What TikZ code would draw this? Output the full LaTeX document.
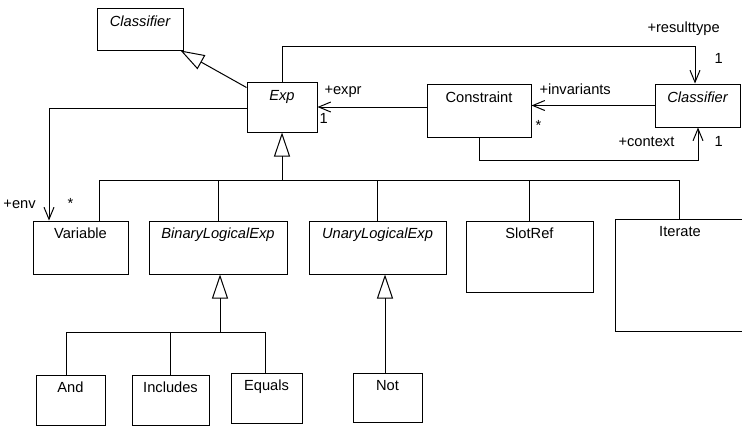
\documentclass[tikz,border=0pt]{standalone}
\usepackage{fontspec}
\setmainfont{Liberation Sans}
\usetikzlibrary{arrows.meta}
\begin{document}
\begin{tikzpicture}[x=0.75pt,y=-0.75pt,
  every path/.style={line width=0.75pt},
  box/.style 2 args={draw, rectangle, inner sep=0pt, line width=0.75pt,
    minimum width=#1*0.75pt, minimum height=#2*0.75pt},
  lbl/.style={inner sep=0pt, anchor=base, font=\fontsize{11}{13}\selectfont},
  ilbl/.style={lbl, font=\fontsize{11}{13}\selectfont\itshape},
  elbl/.style={inner sep=0pt, anchor=base west, font=\fontsize{11}{13}\selectfont},
  gen/.style={-{Triangle[open, length=18pt, width=12pt, line width=0.75pt]}},
  assoc/.style={-{Straight Barb[length=9pt, width=7.5pt, line width=0.75pt]}}]
\useasboundingbox (0,0) rectangle (742,426);

% boxes
\node[box={86}{42}]  (cls1) at (140,29) {};
\node[box={70}{50}]  (exp)  at (282,107) {};
\node[box={104}{53}] (con)  at (479,110.5) {};
\node[box={85}{43}]  (cls2) at (697.5,105.5) {};
\node[box={95}{53}]  (var)  at (80.5,247.5) {};
\node[box={138}{53}] (bin)  at (218,247.5) {};
\node[box={137}{53}] (una)  at (377.5,247.5) {};
\node[box={127}{71}] (slot) at (529.5,256.5) {};
\node[box={128}{112}] (iter) at (679,275) {};
\node[box={69}{50}]  (and)  at (70.5,400) {};
\node[box={77}{50}]  (inc)  at (170.5,400) {};
\node[box={71}{50}]  (eq)   at (266.5,398) {};
\node[box={69}{49}]  (not)  at (387.5,397.5) {};

% box texts
\node[ilbl] (tcls1) at (140,26) {Classifier};
\node[ilbl] (texp)  at (282,100) {Exp};
\node[lbl]  (tcon)  at (479,102) {Constraint};
\node[ilbl] (tcls2) at (697.5,102) {Classifier};
\node[lbl]  (tvar)  at (80.5,238.5) {Variable};
\node[ilbl] (tbin)  at (218,238.5) {BinaryLogicalExp};
\node[ilbl] (tuna)  at (377.5,238.5) {UnaryLogicalExp};
\node[lbl]  (tslot) at (529.5,238.5) {SlotRef};
\node[lbl]  (titer) at (680,236.5) {Iterate};
\node[lbl]  (tand)  at (70.5,392) {And};
\node[lbl]  (tinc)  at (170.5,392) {Includes};
\node[lbl]  (teq)   at (266.5,390.5) {Equals};
\node[lbl]  (tnot)  at (387.5,390) {Not};

% Exp generalizes Classifier
\draw[gen] ([yshift=-4.5pt]exp.north west) -- ([xshift=-2.25pt]cls1.south east);

% Exp subclasses
\coordinate (bus) at (282,180);
\coordinate (busL) at (99,180);
\coordinate (busR) at (679,180);
\draw[gen] (bus) -- (exp.south);
\draw (busL) -- (busR);
\draw (busL) -- (busL |- var.north);
\draw (bin.north |- bus) -- (bin.north);
\draw (una.north |- bus) -- (una.north);
\draw (slot.north |- bus) -- (slot.north);
\draw (busR) -- (iter.north);

% BinaryLogicalExp subclasses
\coordinate (bbus) at (220,332);
\coordinate (bbusL) at (66,332);
\coordinate (bbusR) at (265,332);
\draw[gen] (bbus) -- (bbus |- bin.south);
\draw (bbusL) -- (bbusR);
\draw (bbusL) -- (bbusL |- and.north);
\draw (inc.north |- bbus) -- (inc.north);
\draw (bbusR) -- (bbusR |- eq.north);

% UnaryLogicalExp subclass
\coordinate (ubus) at (385,300);
\draw[gen] (ubus |- not.north) -- (ubus |- una.south);

% associations
\coordinate (rt) at (695,46);
\draw[assoc] (exp.north) |- (rt) -- (rt |- cls2.north);
\draw[assoc] (exp.east -| con.west) -- (exp.east);
\draw[assoc] (cls2.west) -- (cls2.west -| con.east);
\coordinate (ctx) at (698,160);
\draw[assoc] (con.south) |- (ctx) -- (ctx |- cls2.south);
\coordinate (env) at (49,108);
\draw[assoc] (exp.west |- env) -- (env) -- (env |- var.north);

% association end labels
\node[elbl] (lrt)   at (647,32)  {+resulttype};
\node[elbl] (lrt1)  at (714,63)  {1};
\node[elbl] (lexpr) at (324,94)  {+expr};
\node[elbl] (lexp1) at (319,123) {1};
\node[elbl] (linv)  at (539,94)  {+invariants};
\node[elbl] (linvs) at (535,130) {*};
\node[elbl] (lctx)  at (618,146) {+context};
\node[elbl] (lctx1) at (714,146) {1};
\node[elbl] (lenv)  at (3,208)   {+env};
\node[elbl] (lenvs) at (67,208)  {*};
\end{tikzpicture}
\end{document}
